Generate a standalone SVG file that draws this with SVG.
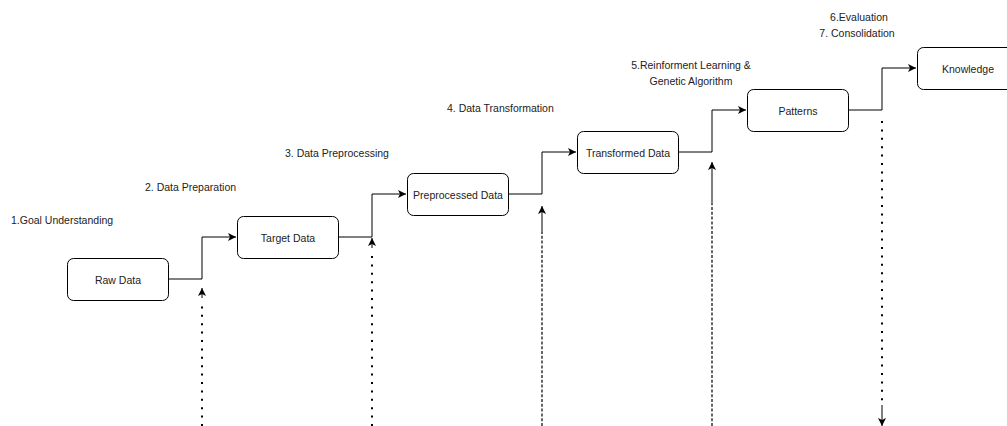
<svg xmlns="http://www.w3.org/2000/svg" width="1007" height="426" viewBox="0 0 1007 426">
  <style>
    .box { fill: #ffffff; stroke: #000000; stroke-width: 1; }
    .lbl { font-family: "Liberation Sans", Arial, sans-serif; font-size: 10.5px; fill: #222222; }
    .step { font-family: "Liberation Sans", Arial, sans-serif; font-size: 10.5px; fill: #222222; }
    .flow { fill: none; stroke: #000000; stroke-width: 1; }
    .dot { fill: none; stroke: #000000; stroke-width: 2; stroke-dasharray: 2 6.4; }
    .dash { fill: none; stroke: #000000; stroke-width: 1.2; stroke-dasharray: 3 1.8; }
  </style>
  <defs>
    <marker id="arrow" viewBox="0 0 10 10" refX="10" refY="5" markerWidth="8" markerHeight="8" markerUnits="userSpaceOnUse" orient="auto">
      <path d="M0,0 L10,5 L0,10 L2.5,5 Z" fill="#000000"/>
    </marker>
  </defs>

  <rect width="1007" height="426" fill="#ffffff"/>

  <!-- stage labels -->
  <text class="step" x="11" y="224">1.Goal Understanding</text>
  <text class="step" x="145" y="191">2. Data Preparation</text>
  <text class="step" x="285" y="157">3. Data Preprocessing</text>
  <text class="step" x="447" y="112">4. Data Transformation</text>
  <text class="step" x="691" y="69" text-anchor="middle">5.Reinforment Learning &amp;</text>
  <text class="step" x="691" y="85" text-anchor="middle">Genetic Algorithm</text>
  <text class="step" x="859" y="21" text-anchor="middle">6.Evaluation</text>
  <text class="step" x="857" y="37" text-anchor="middle">7. Consolidation</text>

  <!-- process connectors -->
  <g id="connectors">
    <polyline class="flow" points="168,279 202,279 202,237 236,237" marker-end="url(#arrow)"/>
    <polyline class="flow" points="338,237 372,237 372,194 406,194" marker-end="url(#arrow)"/>
    <polyline class="flow" points="508,194 542,194 542,152 576,152" marker-end="url(#arrow)"/>
    <polyline class="flow" points="678,152 712,152 712,110 746,110" marker-end="url(#arrow)"/>
    <polyline class="flow" points="848,110 882,110 882,68 916,68" marker-end="url(#arrow)"/>

    <!-- feedback lines -->
    <line class="dot" x1="202" y1="426" x2="202" y2="302"/>
    <line class="flow" x1="202" y1="298" x2="202" y2="288" marker-end="url(#arrow)"/>

    <line class="dot" x1="372" y1="426" x2="372" y2="252"/>
    <line class="flow" x1="372" y1="248" x2="372" y2="238" marker-end="url(#arrow)"/>

    <line class="dash" x1="542" y1="426" x2="542" y2="232"/>
    <line class="flow" x1="542" y1="232" x2="542" y2="206" marker-end="url(#arrow)"/>

    <line class="dash" x1="712" y1="426" x2="712" y2="202"/>
    <line class="flow" x1="712" y1="202" x2="712" y2="162" marker-end="url(#arrow)"/>

    <line class="dot" x1="882" y1="121" x2="882" y2="402"/>
    <line class="flow" x1="882" y1="405" x2="882" y2="426" marker-end="url(#arrow)"/>
  </g>

  <!-- nodes -->
  <g id="raw-data">
    <rect class="box" x="67.5" y="258.5" width="101" height="42" rx="6"/>
    <text class="lbl" x="118" y="283.5" text-anchor="middle">Raw Data</text>
  </g>
  <g id="target-data">
    <rect class="box" x="237.5" y="216.5" width="101" height="42" rx="6"/>
    <text class="lbl" x="288" y="241.5" text-anchor="middle">Target Data</text>
  </g>
  <g id="preprocessed-data">
    <rect class="box" x="407.5" y="173.5" width="101" height="42" rx="6"/>
    <text class="lbl" x="458" y="198.5" text-anchor="middle">Preprocessed Data</text>
  </g>
  <g id="transformed-data">
    <rect class="box" x="577.5" y="131.5" width="101" height="42" rx="6"/>
    <text class="lbl" x="628" y="156.5" text-anchor="middle">Transformed Data</text>
  </g>
  <g id="patterns">
    <rect class="box" x="747.5" y="89.5" width="101" height="42" rx="6"/>
    <text class="lbl" x="798" y="114.5" text-anchor="middle">Patterns</text>
  </g>
  <g id="knowledge">
    <rect class="box" x="917.5" y="47.5" width="101" height="42" rx="6"/>
    <text class="lbl" x="968" y="72.5" text-anchor="middle">Knowledge</text>
  </g>
</svg>
